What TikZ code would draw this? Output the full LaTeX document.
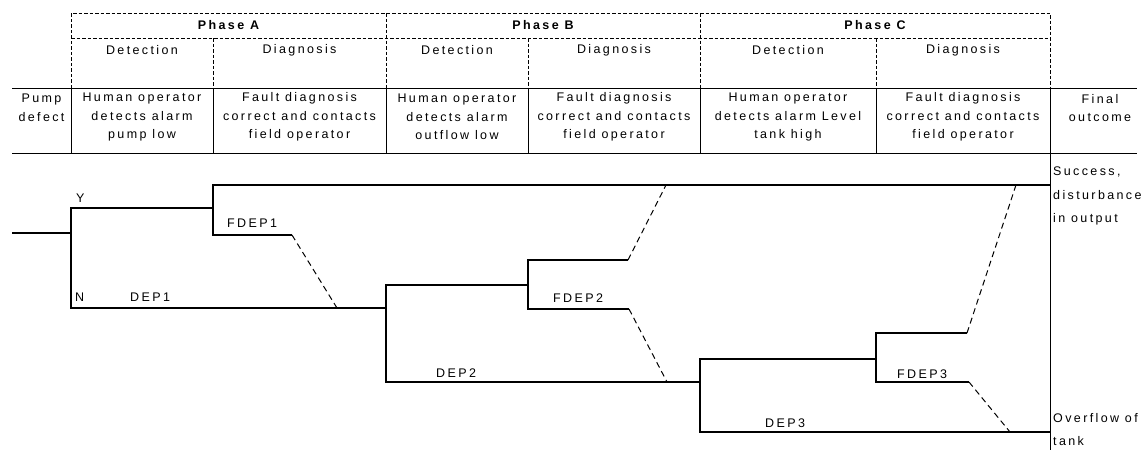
\documentclass[tikz,border=0pt]{standalone}
\usepackage{fontspec}
\setmainfont[LetterSpace=19]{Liberation Sans}
\usetikzlibrary{positioning}

\begin{document}
\begin{tikzpicture}[
  x=1pt, y=-1pt,
  font=\fontsize{12.5}{18.5}\selectfont,
  grid/.style={line width=0.9pt},
  hdash/.style={line width=0.9pt, dash pattern=on 3.5pt off 2pt},
  branch/.style={line width=1.3pt},
  cut/.style={line width=1pt, dash pattern=on 6pt off 4pt},
  cell/.style={align=center, inner sep=0pt},
  phase/.style={cell, font=\fontsize{12.5}{18.5}\selectfont\bfseries},
  tag/.style={anchor=base west, inner sep=0pt},
  outcome/.style={anchor=north west, align=left, inner sep=0pt, font=\fontsize{12.5}{23.5}\selectfont}
]
\useasboundingbox (0,0) rectangle (1146,450);

% header: phases
\draw[hdash] (71,88) -- (71,13) -- (1050,13) -- (1050,88);
\draw[hdash] (71,38) -- (1050,38);
\foreach \x in {386,700} \draw[hdash] (\x,13) -- (\x,88);
\foreach \x in {213,528,876} \draw[hdash] (\x,38) -- (\x,88);

\node[phase] (phaseA) at (228.5,25) {Phase A};
\node[phase] (phaseB) at (543,25) {Phase B};
\node[phase] (phaseC) at (875,25) {Phase C};

\node[cell] (detA) at (142,50) {Detection};
\node[cell] (diaA) at (299.5,50) {Diagnosis};
\node[cell] (detB) at (457,50) {Detection};
\node[cell] (diaB) at (614,50) {Diagnosis};
\node[cell] (detC) at (788,50) {Detection};
\node[cell] (diaC) at (963,50) {Diagnosis};

% header: events
\draw[grid] (12,88) -- (1137,88);
\draw[grid] (12,153) -- (1137,153);
\foreach \x in {71,213,386,528,700,876} \draw[grid] (\x,88) -- (\x,153);
\draw[grid] (1050,88) -- (1050,450);

\node[cell] (pump) at (41.5,108) {Pump\\defect};
\node[cell] (evA1) at (142,117) {Human operator\\detects alarm\\pump low};
\node[cell] (evA2) at (299.5,117) {Fault diagnosis\\correct and contacts\\field operator};
\node[cell] (evB1) at (457,117) {Human operator\\detects alarm\\outflow low};
\node[cell] (evB2) at (614,117) {Fault diagnosis\\correct and contacts\\field operator};
\node[cell] (evC1) at (788,117) {Human operator\\detects alarm Level\\tank high};
\node[cell] (evC2) at (963,117) {Fault diagnosis\\correct and contacts\\field operator};
\node[cell] (final) at (1100,108) {Final\\outcome};

% event tree
\coordinate (start) at (12,233);
\coordinate (b1) at (71,233);
\coordinate (y1) at (71,208);
\coordinate (n1) at (71,308);
\coordinate (y1e) at (213,208);
\coordinate (f1t) at (213,185);
\coordinate (f1b) at (213,235);
\coordinate (f1k) at (292,235);
\coordinate (f1d) at (337,308);
\coordinate (win) at (1050,185);
\coordinate (n1e) at (386,308);
\coordinate (d2t) at (386,285);
\coordinate (d2b) at (386,382);
\coordinate (f2) at (528,285);
\coordinate (f2t) at (528,260);
\coordinate (f2b) at (528,309);
\coordinate (f2tk) at (628,260);
\coordinate (f2tu) at (666,185);
\coordinate (f2bk) at (629,309);
\coordinate (f2bd) at (667,382);
\coordinate (d2e) at (700,382);
\coordinate (d3t) at (700,359);
\coordinate (d3b) at (700,432);
\coordinate (f3) at (876,359);
\coordinate (f3t) at (876,333);
\coordinate (f3b) at (876,382);
\coordinate (f3tk) at (967,333);
\coordinate (f3tu) at (1016,185);
\coordinate (f3bk) at (969,382);
\coordinate (f3bd) at (1010,432);
\coordinate (lose) at (1050,432);

\draw[branch] (start) -- (b1);
\draw[branch] (y1e) -- (y1) -- (n1) -- (n1e);
\draw[branch] (win) -- (f1t) -- (f1b) -- (f1k);
\draw[cut] (f1k) -- (f1d);
\draw[branch] (f2) -- (d2t) -- (d2b) -- (d2e);
\draw[branch] (f2tk) -- (f2t) -- (f2b) -- (f2bk);
\draw[cut] (f2tk) -- (f2tu);
\draw[cut] (f2bk) -- (f2bd);
\draw[branch] (f3) -- (d3t) -- (d3b) -- (lose);
\draw[branch] (f3tk) -- (f3t) -- (f3b) -- (f3bk);
\draw[cut] (f3tk) -- (f3tu);
\draw[cut] (f3bk) -- (f3bd);

\node[tag] (yes) at (76,202) {Y};
\node[tag] (no) at (75,301) {N};
\node[tag] (dep1) at (130,301) {DEP1};
\node[tag] (fdep1) at (227,227) {FDEP1};
\node[tag] (fdep2) at (553,302) {FDEP2};
\node[tag] (dep2) at (436,377) {DEP2};
\node[tag] (fdep3) at (897,378) {FDEP3};
\node[tag] (dep3) at (765,427) {DEP3};

\node[outcome] (success) at (1053,167) {Success,\\disturbance\\in output};
\node[outcome] (overflow) at (1053,413) {Overflow of\\tank};

\end{tikzpicture}
\end{document}
